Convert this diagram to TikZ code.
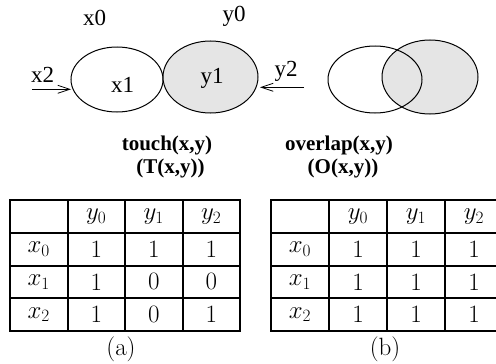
\documentclass[tikz,border=0pt]{standalone}
\usepackage{fontspec}
\newfontfamily\tim{Liberation Serif}
\usetikzlibrary{shapes.geometric,arrows.meta}
\definecolor{shade}{HTML}{E5E5E5}
\tikzset{
  lab/.style={font=\tim\fontsize{23}{25}\selectfont, inner sep=0pt, anchor=base},
  blab/.style={font=\tim\bfseries\fontsize{21}{23}\selectfont, inner sep=0pt, anchor=base},
  ell/.style={ellipse, draw, line width=1pt, inner sep=0pt},
  harrow/.style={line width=0.8pt, -{Straight Barb[length=12pt,width=8pt,line width=0.8pt]}},
  cell/.style={draw, line width=2pt, minimum width=57.5pt, minimum height=32.75pt, inner sep=0pt},
  cellb/.style={cell, minimum width=58pt},
  celltxt/.style={font=\fontsize{25}{28}\selectfont, inner sep=0pt}
}
\begin{document}
\begin{tikzpicture}[x=1pt,y=-1pt]
\useasboundingbox (0,0) rectangle (496,364);
\clip (0,0) rectangle (496,364);
% touch
\node[ell, fill=white, minimum width=92pt, minimum height=65pt] (ex1) at (117,79.5) {};
\node[ell, fill=shade, minimum width=95pt, minimum height=72pt] (ey1) at (210.5,77) {};
\node[lab] (tx0) at (94.5,25) {x0};
\node[lab] (ty0) at (234,21) {y0};
\node[lab] (tx1) at (122.5,92) {x1};
\node[lab] (ty1) at (212,83) {y1};
\node[lab] (tx2) at (42.5,82) {x2};
\node[lab] (ty2) at (286,76) {y2};
\coordinate (ax2s) at (32,89.3);
\coordinate (ax2e) at (71,89.3);
\coordinate (ay2s) at (304,87.3);
\coordinate (ay2e) at (260,87.3);
\draw[harrow] (ax2s) -- (ax2e);
\draw[harrow] (ay2s) -- (ay2e);
% overlap
\node[ell, fill=shade, minimum width=96pt, minimum height=74pt] (eo2) at (430,77) {};
\node[ell, minimum width=94pt, minimum height=67pt] (eo1) at (375,79.5) {};
% titles
\node[blab] (tt1) at (167,150.5) {touch(x,y)};
\node[blab] (tt2) at (170.5,173) {(T(x,y))};
\node[blab] (to1) at (339,150.5) {overlap(x,y)};
\node[blab] (to2) at (343,173) {(O(x,y))};
% table a
\foreach \c/\x in {0/38.75,1/96.25,2/153.75,3/211.25}{
  \foreach \r/\y in {0/216.375,1/249.125,2/281.875,3/314.625}{
    \node[cell] (a\r\c) at (\x,\y) {};
  }
}
\node[celltxt] at (a01) {$y_0$};
\node[celltxt] at (a02) {$y_1$};
\node[celltxt] at (a03) {$y_2$};
\node[celltxt] at (a10) {$x_0$};
\node[celltxt] at (a20) {$x_1$};
\node[celltxt] at (a30) {$x_2$};
\node[celltxt] at (a11) {1};\node[celltxt] at (a12) {1};\node[celltxt] at (a13) {1};
\node[celltxt] at (a21) {1};\node[celltxt] at (a22) {0};\node[celltxt] at (a23) {0};
\node[celltxt] at (a31) {1};\node[celltxt] at (a32) {0};\node[celltxt] at (a33) {1};
\node[celltxt] (capa) at (121,349) {(a)};
% table b
\foreach \c/\x in {0/300,1/358,2/416,3/474}{
  \foreach \r/\y in {0/216.375,1/249.125,2/281.875,3/314.625}{
    \node[cellb] (b\r\c) at (\x,\y) {};
  }
}
\node[celltxt] at (b01) {$y_0$};
\node[celltxt] at (b02) {$y_1$};
\node[celltxt] at (b03) {$y_2$};
\node[celltxt] at (b10) {$x_0$};
\node[celltxt] at (b20) {$x_1$};
\node[celltxt] at (b30) {$x_2$};
\node[celltxt] at (b11) {1};\node[celltxt] at (b12) {1};\node[celltxt] at (b13) {1};
\node[celltxt] at (b21) {1};\node[celltxt] at (b22) {1};\node[celltxt] at (b23) {1};
\node[celltxt] at (b31) {1};\node[celltxt] at (b32) {1};\node[celltxt] at (b33) {1};
\node[celltxt] (capb) at (385,349) {(b)};
\end{tikzpicture}
\end{document}
